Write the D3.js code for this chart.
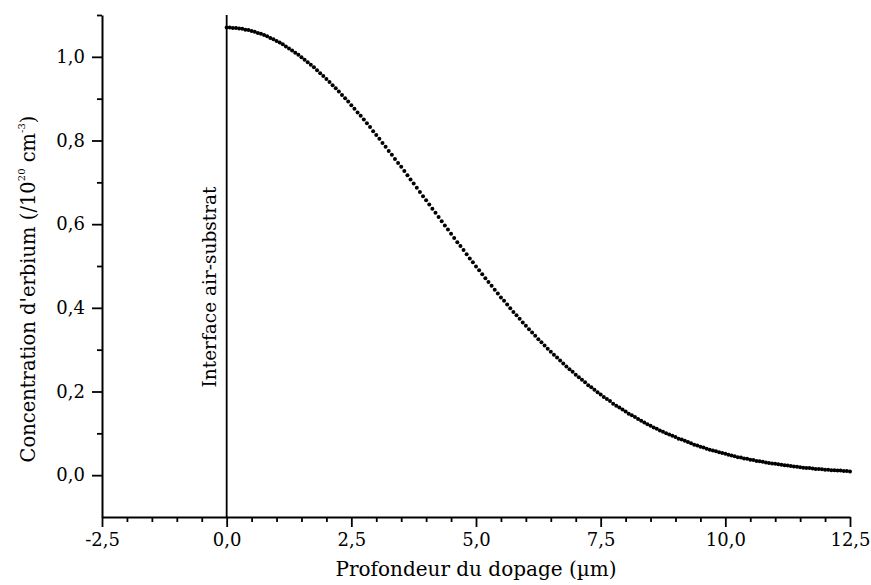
<!DOCTYPE html>
<html>
<head>
<meta charset="utf-8">
<script src="https://cdn.jsdelivr.net/npm/d3@7"></script>
<style>
  html, body { margin: 0; padding: 0; background: #fff; }
  svg { display: block; }
  text { font-family: "DejaVu Serif", "Liberation Serif", serif; fill: #000; }
</style>
</head>
<body>
<svg id="chart" width="871" height="585"></svg>
<script>
// ---- data ----
const depth = [
  0, 0.0625, 0.125, 0.1875, 0.25, 0.3125, 0.375, 0.4375, 0.5, 0.5625,
  0.625, 0.6875, 0.75, 0.8125, 0.875, 0.9375, 1, 1.0625, 1.125, 1.1875,
  1.25, 1.3125, 1.375, 1.4375, 1.5, 1.5625, 1.625, 1.6875, 1.75, 1.8125,
  1.875, 1.9375, 2, 2.0625, 2.125, 2.1875, 2.25, 2.3125, 2.375, 2.4375,
  2.5, 2.5625, 2.625, 2.6875, 2.75, 2.8125, 2.875, 2.9375, 3, 3.0625,
  3.125, 3.1875, 3.25, 3.3125, 3.375, 3.4375, 3.5, 3.5625, 3.625, 3.6875,
  3.75, 3.8125, 3.875, 3.9375, 4, 4.0625, 4.125, 4.1875, 4.25, 4.3125,
  4.375, 4.4375, 4.5, 4.5625, 4.625, 4.6875, 4.75, 4.8125, 4.875, 4.9375,
  5, 5.0625, 5.125, 5.1875, 5.25, 5.3125, 5.375, 5.4375, 5.5, 5.5625,
  5.625, 5.6875, 5.75, 5.8125, 5.875, 5.9375, 6, 6.0625, 6.125, 6.1875,
  6.25, 6.3125, 6.375, 6.4375, 6.5, 6.5625, 6.625, 6.6875, 6.75, 6.8125,
  6.875, 6.9375, 7, 7.0625, 7.125, 7.1875, 7.25, 7.3125, 7.375, 7.4375,
  7.5, 7.5625, 7.625, 7.6875, 7.75, 7.8125, 7.875, 7.9375, 8, 8.0625,
  8.125, 8.1875, 8.25, 8.3125, 8.375, 8.4375, 8.5, 8.5625, 8.625, 8.6875,
  8.75, 8.8125, 8.875, 8.9375, 9, 9.0625, 9.125, 9.1875, 9.25, 9.3125,
  9.375, 9.4375, 9.5, 9.5625, 9.625, 9.6875, 9.75, 9.8125, 9.875, 9.9375,
  10, 10.0625, 10.125, 10.1875, 10.25, 10.3125, 10.375, 10.4375, 10.5, 10.5625,
  10.625, 10.6875, 10.75, 10.8125, 10.875, 10.9375, 11, 11.0625, 11.125, 11.1875,
  11.25, 11.3125, 11.375, 11.4375, 11.5, 11.5625, 11.625, 11.6875, 11.75, 11.8125,
  11.875, 11.9375, 12, 12.0625, 12.125, 12.1875, 12.25, 12.3125, 12.375, 12.4375,
  12.5
];
const concentration = [
  1.070, 1.070, 1.069, 1.069, 1.068, 1.067, 1.065, 1.064, 1.062, 1.060,
  1.057, 1.055, 1.052, 1.049, 1.045, 1.042, 1.038, 1.034, 1.030, 1.025,
  1.020, 1.015, 1.010, 1.005, 0.999, 0.993, 0.987, 0.981, 0.975, 0.968,
  0.961, 0.954, 0.947, 0.940, 0.932, 0.925, 0.917, 0.909, 0.901, 0.893,
  0.884, 0.876, 0.867, 0.859, 0.850, 0.841, 0.832, 0.822, 0.813, 0.804,
  0.794, 0.785, 0.775, 0.766, 0.756, 0.746, 0.737, 0.727, 0.717, 0.707,
  0.697, 0.687, 0.677, 0.667, 0.657, 0.647, 0.637, 0.627, 0.617, 0.607,
  0.597, 0.587, 0.577, 0.567, 0.557, 0.548, 0.538, 0.528, 0.518, 0.509,
  0.499, 0.490, 0.480, 0.471, 0.462, 0.453, 0.443, 0.434, 0.425, 0.417,
  0.408, 0.399, 0.390, 0.382, 0.374, 0.365, 0.357, 0.349, 0.341, 0.333,
  0.325, 0.318, 0.310, 0.302, 0.295, 0.288, 0.281, 0.274, 0.267, 0.260,
  0.253, 0.247, 0.240, 0.234, 0.228, 0.222, 0.215, 0.210, 0.204, 0.198,
  0.193, 0.187, 0.182, 0.177, 0.171, 0.166, 0.162, 0.157, 0.152, 0.147,
  0.143, 0.139, 0.134, 0.130, 0.126, 0.122, 0.118, 0.114, 0.111, 0.107,
  0.104, 0.100, 0.097, 0.094, 0.091, 0.087, 0.085, 0.082, 0.079, 0.076,
  0.073, 0.071, 0.068, 0.066, 0.063, 0.061, 0.059, 0.057, 0.055, 0.053,
  0.051, 0.049, 0.047, 0.045, 0.043, 0.042, 0.040, 0.039, 0.037, 0.036,
  0.034, 0.033, 0.032, 0.030, 0.029, 0.028, 0.027, 0.026, 0.025, 0.024,
  0.023, 0.022, 0.021, 0.020, 0.019, 0.018, 0.017, 0.017, 0.016, 0.015,
  0.015, 0.014, 0.013, 0.013, 0.012, 0.012, 0.011, 0.011, 0.010, 0.010,
  0.009
];
const xTicks = [-2.5, 0, 2.5, 5, 7.5, 10, 12.5];
const xTickLabels = ["-2,5", "0,0", "2,5", "5,0", "7,5", "10,0", "12,5"];
const yTicks = [0, 0.2, 0.4, 0.6, 0.8, 1.0];
const yTickLabels = ["0,0", "0,2", "0,4", "0,6", "0,8", "1,0"];
const xMinorTicks = [-2, -1.5, -1, -0.5, 0.5, 1, 1.5, 2, 3, 3.5, 4, 4.5, 5.5, 6, 6.5, 7, 8, 8.5, 9, 9.5, 10.5, 11, 11.5, 12];
const yMinorTicks = [0.1, 0.3, 0.5, 0.7, 0.9, 1.1];
const xDomain = [-2.5, 12.5];
const yDomain = [-0.1, 1.1];
const interfaceDepth = 0;
const xTitle = "Profondeur du dopage (µm)";
const interfaceLabel = "Interface air-substrat";

// ---- drawing ----
const svg = d3.select("#chart");
const mLeft = 102, mRight = 850, mTop = 15, mBottom = 517;

const x = d3.scaleLinear().domain(xDomain).range([mLeft, mRight]);
const y = d3.scaleLinear().domain(yDomain).range([mBottom, mTop]);

// minor ticks
const xMinorAxis = d3.axisBottom(x).tickValues(xMinorTicks).tickSize(5).tickFormat("");
const yMinorAxis = d3.axisLeft(y).tickValues(yMinorTicks).tickSize(5).tickFormat("");
svg.append("g").attr("transform", `translate(0,${mBottom})`).call(xMinorAxis)
  .call(g => g.select(".domain").remove())
  .call(g => g.selectAll("line").attr("stroke", "#000").attr("stroke-width", 1.8));
svg.append("g").attr("transform", `translate(${mLeft},0)`).call(yMinorAxis)
  .call(g => g.select(".domain").remove())
  .call(g => g.selectAll("line").attr("stroke", "#000").attr("stroke-width", 1.8));

// major axes
const xAxis = d3.axisBottom(x).tickValues(xTicks).tickSize(10).tickSizeOuter(0).tickPadding(6)
  .tickFormat((d, i) => xTickLabels[i]);
const yAxis = d3.axisLeft(y).tickValues(yTicks).tickSize(10).tickSizeOuter(0).tickPadding(7)
  .tickFormat((d, i) => yTickLabels[i]);

svg.append("g").attr("transform", `translate(0,${mBottom})`).call(xAxis)
  .call(g => g.select(".domain").attr("stroke", "#000").attr("stroke-width", 2))
  .call(g => g.selectAll(".tick line").attr("stroke", "#000").attr("stroke-width", 1.8))
  .call(g => g.selectAll(".tick text").attr("font-family", "DejaVu Serif").attr("font-size", 18).attr("fill", "#000"));

svg.append("g").attr("transform", `translate(${mLeft},0)`).call(yAxis)
  .call(g => g.select(".domain").attr("stroke", "#000").attr("stroke-width", 2))
  .call(g => g.selectAll(".tick line").attr("stroke", "#000").attr("stroke-width", 1.8))
  .call(g => g.selectAll(".tick text").attr("font-family", "DejaVu Serif").attr("font-size", 18).attr("fill", "#000"));

// interface line
svg.append("line")
  .attr("x1", x(interfaceDepth)).attr("x2", x(interfaceDepth))
  .attr("y1", mTop).attr("y2", mBottom)
  .attr("stroke", "#000").attr("stroke-width", 1.8);

svg.append("text")
  .attr("transform", `translate(${x(interfaceDepth) - 11},${287}) rotate(-90)`)
  .attr("text-anchor", "middle")
  .attr("font-size", 18.5)
  .text(interfaceLabel);

// data points
const pts = depth.map((d, i) => ({ x: d, y: concentration[i] }));
svg.append("g").selectAll("circle").data(pts).join("circle")
  .attr("cx", d => x(d.x)).attr("cy", d => y(d.y))
  .attr("r", 2).attr("fill", "#000");

// x title
svg.append("text")
  .attr("x", (mLeft + mRight) / 2).attr("y", 576)
  .attr("text-anchor", "middle")
  .attr("font-size", 20)
  .text(xTitle);

// y title
const yt = svg.append("text")
  .attr("transform", `translate(35,289) rotate(-90)`)
  .attr("text-anchor", "middle")
  .attr("font-size", 19.5);
yt.append("tspan").text("Concentration d'erbium (/10");
yt.append("tspan").attr("font-size", 10).attr("dy", -10).text("20");
yt.append("tspan").attr("dy", 10).text(" cm");
yt.append("tspan").attr("font-size", 10).attr("dy", -10).text("-3");
yt.append("tspan").attr("dy", 10).text(")");
</script>
</body>
</html>
